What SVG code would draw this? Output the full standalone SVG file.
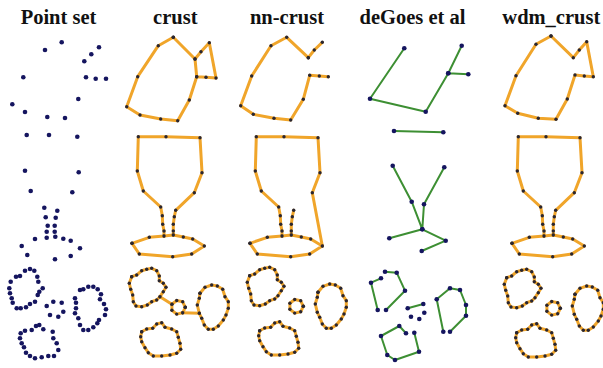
<svg xmlns="http://www.w3.org/2000/svg" xmlns:xlink="http://www.w3.org/1999/xlink" width="603" height="368" viewBox="0 0 603 368">
  <style>
    .t { font-family: "Liberation Serif", "Times New Roman", serif; font-weight: bold; font-size: 20.5px; text-anchor: middle; fill: #111; }
    .pt { fill: none; stroke: none; marker-start: url(#dp); marker-mid: url(#dp); marker-end: url(#dp); }
    .or { fill: none; stroke: #f0a52a; stroke-width: 3; stroke-linejoin: round; stroke-linecap: round; marker-start: url(#dc); marker-mid: url(#dc); marker-end: url(#dc); }
    .gr { fill: none; stroke: #3d8f33; stroke-width: 2; stroke-linejoin: round; marker-start: url(#dp); marker-mid: url(#dp); marker-end: url(#dp); }
  </style>
  <defs>
    <!-- sample point (navy) -->
    <marker id="dp" viewBox="-3 -3 6 6" markerWidth="6" markerHeight="6" markerUnits="userSpaceOnUse" refX="0" refY="0" overflow="visible">
      <circle r="2.3" fill="#15155f"/>
    </marker>
    <!-- sample point on a reconstructed curve -->
    <marker id="dc" viewBox="-3 -3 6 6" markerWidth="6" markerHeight="6" markerUnits="userSpaceOnUse" refX="0" refY="0" overflow="visible">
      <circle r="1.7" fill="#2a2630"/>
    </marker>

    <!-- goblet pieces (crust frame) -->
    <path id="gob-cup" class="or" d="M164,236 L164,231 L162.7,224.3 L162.3,215.7 L160.7,207 L143.3,191 L137.3,171 L138.3,136.7 L166,136.7 L200,137.7 L202,172.7 L194.3,192.7 L175.7,210.3 L174.3,216.7 L173.3,224.3 L173.3,231 L173.3,235"/>
    <path id="gob-base" class="or" d="M132,243.3 L149.3,237.3 L164,236 L173.3,235 L183.3,237 L192.7,239 L204.3,246 L191.7,254 L172.7,256.7 L139.3,254 Z"/>

    <!-- three closed outlines and the small ring (crust frame) -->
    <g id="blobs">
      <path class="or" d="M131.7,276.7 L136.7,275 L141.7,270.7 L146.7,269.3 L151.7,268.3 L156.7,270.7 L159.3,276 L159.3,280.7 L163.3,283.3 L166,287.3 L163.3,291.7 L160,296.7 L156.7,300 L151.7,301.7 L147.3,305 L141.7,306.7 L136,306 L133.3,301.7 L132.7,295 L130.7,289.3 L129.3,283.3 Z"/>
      <path class="or" d="M185.3,307.3 L182.7,312.8 L176.7,314.1 L171.9,310.3 L171.9,304.3 L176.7,300.5 L182.7,301.8 Z"/>
      <path class="or" d="M200,293.3 L205,287.3 L211.7,285 L217.3,286 L222.7,289.3 L225,296.7 L228.3,301.7 L228.3,308.3 L226,315 L223.3,320 L218.3,326 L213.3,329.3 L208.3,329.3 L204.3,325 L201.7,318.3 L199.3,313.3 L197.3,305 L199.3,298.3 Z"/>
      <path class="or" d="M141.7,331.7 L146.7,329 L152.7,328.3 L156.7,324 L161.7,322.7 L165,327.3 L171.7,329 L176.7,331.7 L178.3,337.3 L180,343.3 L180.7,349.3 L176.7,353.3 L170,355 L161.7,356 L153.3,356 L148.3,352.7 L145,347.7 L141.7,341.7 L140.7,336.7 Z"/>
    </g>
  </defs>

  <g id="titles">
    <text class="t" x="58.5" y="23.5">Point set</text>
    <text class="t" x="175.3" y="23.5">crust</text>
    <text class="t" x="287" y="23.5">nn-crust</text>
    <text class="t" x="412.5" y="23.5">deGoes et al</text>
    <text class="t" x="551.3" y="23.5">wdm_crust</text>
  </g>

  <!-- input samples only -->
  <g id="point-set">
    <path class="pt" d="M61.7,42.3 L45,50 L99,47.3 L91.3,54.3 L84.3,61.3 L23.3,77.3 L86,77.3 L95.7,78.7 L106,78.7 L78.3,99 L12.3,104.3 L25,112 L47.3,117 L65,118"/>
    <path class="pt" d="M26.7,135 L49,135 L77.3,136.7 L25,170.7 L78.7,172.3 L30.7,191 L72.3,192.3 L44.3,207.7 L57.3,210.7 L45.7,217.3 L55.7,217.7 L47.7,225.7 L54.7,225.7 L46.7,231.7 L54.7,231.7 L35,239 L46.7,237.7 L55.3,236.7 L63.3,238.7 L70.7,240.7 L21.7,246 L80,248.3 L27.3,255 L55,259.3 L70.7,256"/>
    <path class="pt" d="M16,276.7 L20,276 L25,270.7 L30,269 L34.3,270.7 L37.3,276.7 L38.3,281.7 L42.7,288.3 L39.3,291.7 L37.7,295 L35,301.7 L30,304 L26,307.3 L20.7,308.3 L16.7,308.3 L12.7,302.7 L11.7,298.3 L10,293.3 L9.3,288.3 L10.7,281.7"/>
    <path class="pt" d="M46.7,306 L53.3,301.7 L61.7,302.7 L63.3,311.7 L58.3,316.7 L50,315"/>
    <path class="pt" d="M75,298.3 L76,302.7 L80,290 L83.3,289.3 L88.3,286.7 L93.3,286.7 L97.7,289.3 L101,294.3 L100,299.3 L104,304 L106,309.3 L105,315 L99,320 L97.3,323.3 L93.3,327.3 L88.3,330 L83.3,330 L80,325 L78.3,318.3 L75,313.3 L76,308.3"/>
    <path class="pt" d="M20.7,333.3 L25,330.7 L31.7,330 L36,326 L39.3,325 L43.3,329.3 L52.7,331.7 L53.3,338.3 L56.7,343.3 L58.3,350 L54,356 L48.3,356 L41.7,357.3 L35,358.3 L30,356 L26,352.7 L24,347.3 L21.7,343.3 L20,338.3"/>
  </g>

  <g id="crust">
    <path class="or" d="M173.3,37.3 L158.3,45.7 L137.7,76.7 L126.7,106.7 L140,115 L160.7,119 L177.7,120.7 L189.3,100 L196.7,76.7 L206,77.3 L216,78 L209.3,42.7 L201,51.7 L195,59 Z M195,59 L196.7,76.7"/>
    <use xlink:href="#gob-cup"/>
    <use xlink:href="#gob-base"/>
    <use xlink:href="#blobs"/>
    <path class="or" d="M160,296.7 L171.9,304.3 M182.7,312.8 L199.3,313.3"/>
  </g>

  <g id="nn-crust">
    <path class="or" d="M308.3,57.7 L286.7,37.3 L271,45.7 L251.7,76 L240.7,105.7 L253.3,114.3 L274,118.3 L290.7,120 L303.3,99.3 L309.7,75.3 L319.3,76 L328.3,76.7 M308.3,57.7 L314.3,50 L322.3,42.3"/>
    <g transform="translate(118,0)">
      <path class="or" d="M164,236 L164,231 L162.7,224.3 L162.3,215.7 L160.7,207 L143.3,191 L137.3,171 L138.3,136.7 L166,136.7 L200,137.7 L202,172.7 L194.3,192.7 L204.3,246"/>
      <path class="or" d="M175.7,210.3 L174.3,216.7 L173.3,224.3 L173.3,231 L173.3,235"/>
      <use xlink:href="#gob-base"/>
    </g>
    <use xlink:href="#blobs" transform="translate(118,-1)"/>
  </g>

  <g id="degoes">
    <path class="gr" d="M404.3,48.3 L370,98.7 L425.7,111.7 L448.3,73.3 L461.7,45.7 M448.3,73.3 L468.3,74.3"/>
    <path class="gr" d="M394,131 L443.3,132.3"/>
    <path class="gr" d="M392.7,165.7 L411.7,201.7 L422.3,229.3 L389.3,238.3 M444.3,167.3 L424,204.3 L422.3,229.3 L445.7,240.7 L421.7,251"/>
    <path class="gr" d="M381,278.3 L371,282.7 L377.7,310 M385,271.7 L396.7,272.7 L405,290.7 L386,310"/>
    <path class="gr" d="M407.7,308.3 L423.3,304"/>
    <path class="pt" d="M411,316.7 L419.3,319 L424.3,312.7"/>
    <path class="gr" d="M443.3,331.7 L436.7,299.3 L450,288.3 L460,290 L466,305 L466,315.7 L450,331.7"/>
    <path class="gr" d="M406,333.3 L399.3,326 L381,336 L387.3,355 L395,360 L419,351.7 L414.3,332.7"/>
  </g>

  <g id="wdm-crust">
    <path class="or" d="M551,36 L536,44.3 L516,75.7 L505,105.7 L517.7,113.3 L538.3,118.3 L556,119.3 L567.3,99 L575,75 L584.3,76 L593.3,76.7 L586.7,41.7 L579.3,50 L573.3,57.7 Z"/>
    <use xlink:href="#gob-cup" transform="translate(380,0)"/>
    <use xlink:href="#gob-base" transform="translate(380,0)"/>
    <use xlink:href="#blobs" transform="translate(375,1)"/>
  </g>
</svg>
